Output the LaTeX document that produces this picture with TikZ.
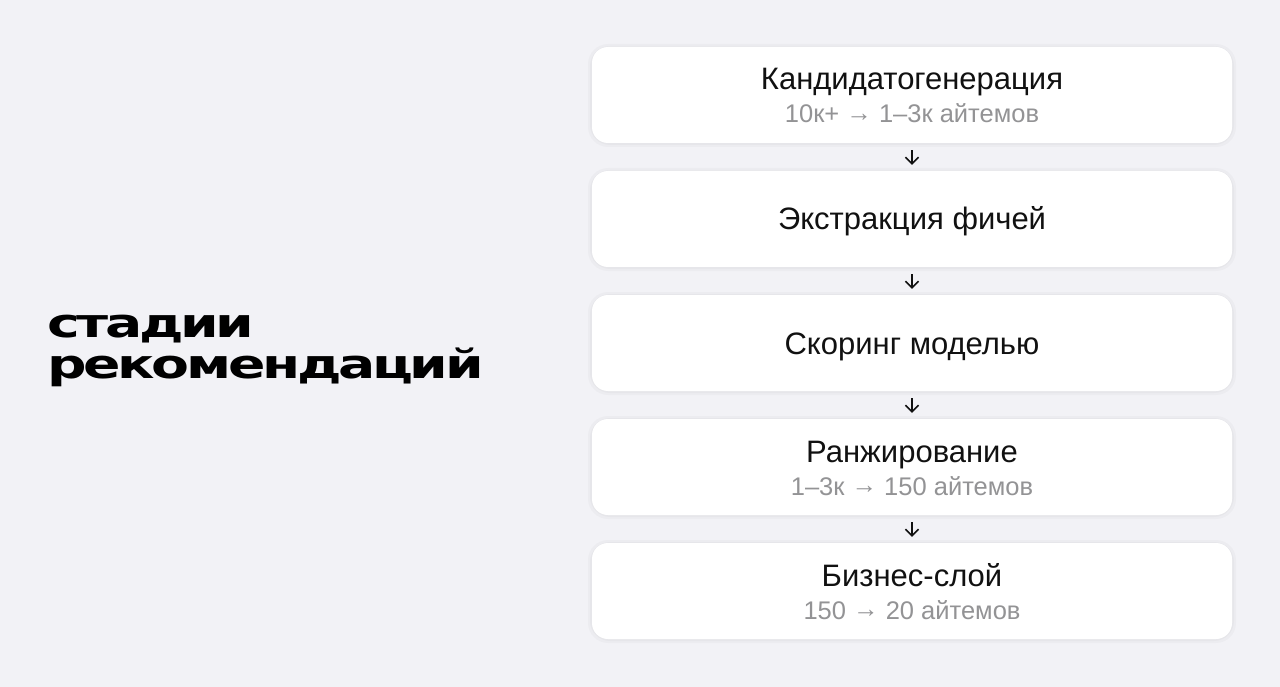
\documentclass[tikz,border=0pt]{standalone}
\usepackage{fontspec}
\setmainfont{Liberation Sans}
\newfontfamily\headfont[LetterSpace=-6]{DejaVu Sans}
\usetikzlibrary{arrows.meta}
\definecolor{bgc}{HTML}{F2F2F6}
\definecolor{subc}{HTML}{939395}
\definecolor{txtc}{HTML}{111111}
\newcommand{\ra}{\raisebox{1.5pt}{→}}
\tikzset{
  stagebox/.style={fill=white, rounded corners=16pt, minimum width=640pt, minimum height=96pt, inner sep=0pt},
  halo/.style={fill=black, opacity=0.025, rounded corners=20pt},
  ttl/.style={anchor=base, text=txtc, font=\fontsize{31}{34}\selectfont, inner sep=0pt},
  sub/.style={anchor=base, text=subc, font=\fontsize{25.5}{28}\selectfont, inner sep=0pt},
  flow/.style={draw=txtc, line width=1.6pt, -{Straight Barb[length=6.5pt,width=13pt,line width=1.6pt]}, shorten <=7pt, shorten >=6pt},
  heading/.style={anchor=base west, inner sep=0pt, font=\headfont\bfseries\fontsize{40}{41}\selectfont},
}
\begin{document}
\begin{tikzpicture}[x=1pt,y=-1pt]
\fill[bgc] (0,0) rectangle (1280,687);
\useasboundingbox (0,0) rectangle (1280,687);
% halos
\foreach \t in {47,171,295,419,543}{
  \fill[halo] (588,\t-3) rectangle (1236,\t+100);
  \fill[halo] (590,\t-1) rectangle (1234,\t+98);
}
\node[stagebox] (b1) at (912,95) {};
\node[stagebox] (b2) at (912,219) {};
\node[stagebox] (b3) at (912,343) {};
\node[stagebox] (b4) at (912,467) {};
\node[stagebox] (b5) at (912,591) {};
\node[ttl] (t1) at (912,90) {Кандидатогенерация};
\node[sub] (s1) at (912,123) {10к+ \ra{} 1–3к айтемов};
\node[ttl] (t2) at (912,230) {Экстракция фичей};
\node[ttl] (t3) at (912,354) {Скоринг моделью};
\node[ttl] (t4) at (912,462) {Ранжирование};
\node[sub] (s4) at (912,495) {1–3к \ra{} 150 айтемов};
\node[ttl] (t5) at (912,586) {Бизнес-слой};
\node[sub] (s5) at (912,619) {150 \ra{} 20 айтемов};
\draw[flow] (b1) -- (b2);
\draw[flow] (b2) -- (b3);
\draw[flow] (b3) -- (b4);
\draw[flow] (b4) -- (b5);
\node[heading] (h1) at (47,337) {\scalebox{1.38}[1]{стадии}};
\node[heading] (h2) at (47,378) {\scalebox{1.38}[1]{рекомендаций}};
\end{tikzpicture}
\end{document}
